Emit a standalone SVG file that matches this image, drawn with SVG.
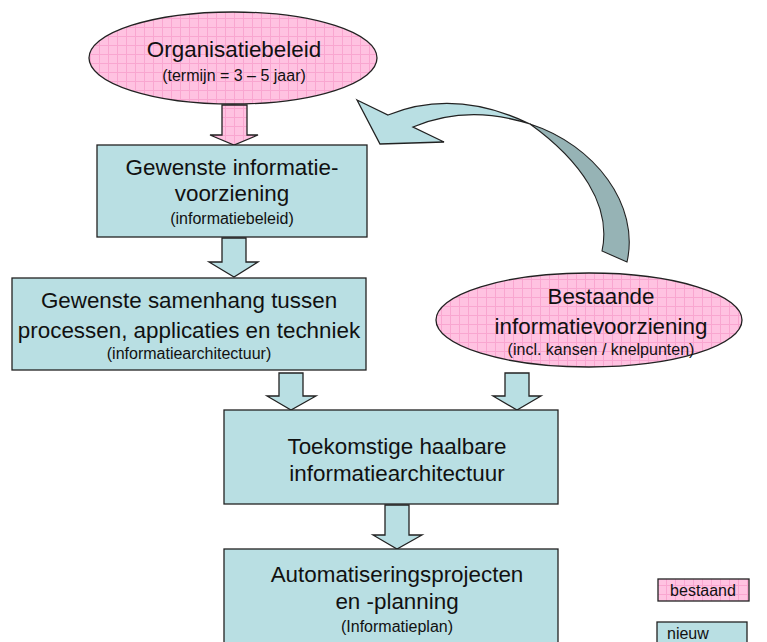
<svg xmlns="http://www.w3.org/2000/svg" width="767" height="642" viewBox="0 0 767 642">
<defs>
<pattern id="grid" width="9" height="9" patternUnits="userSpaceOnUse">
<rect width="9" height="9" fill="#FFC2E1"/>
<path d="M0 0.5H9M0.5 0V9" stroke="#F9A6D0" stroke-width="1"/>
</pattern>
<style>
.pink{fill:url(#grid);stroke:#222;stroke-width:1.3}
.cyan{fill:#B9DFE3;stroke:#222;stroke-width:1.3}
.dark{fill:#96B3B5;stroke:#222;stroke-width:1.1}
.big{font-family:"Liberation Sans",Arial,sans-serif;font-size:22.4px;fill:#111;text-anchor:middle}
.small{font-family:"Liberation Sans",Arial,sans-serif;font-size:16px;fill:#111;text-anchor:middle}
.leg{font-family:"Liberation Sans",Arial,sans-serif;font-size:16px;fill:#111}
</style>
</defs>
<rect width="767" height="642" fill="#fff"/>
<g id="connectors">
<path class="pink" d="M222 105H247V135H258L234 145L210 135H222Z"/>
<path class="cyan" d="M222 238H246V262H258L234 277L209 262H222Z"/>
<path class="cyan" d="M279 373H303V396H316L291 410L267 396H279Z"/>
<path class="cyan" d="M505 373H529V396H541L517 410L493 396H505Z"/>
<path class="cyan" d="M385 505H409V535H422L397 549L373 535H385Z"/>
<path class="cyan" d="M357 100L388 115Q455 88 530 124Q468 104 413 127L444 142L380 144Z"/>
<path class="dark" d="M530 124C595 145 640 205 627 262L602 251C612 205 580 160 530 124Z"/>
</g>
<g id="n-organisatiebeleid">
<ellipse class="pink" cx="233" cy="58" rx="144" ry="46"/>
<text class="big" x="234" y="57">Organisatiebeleid</text>
<text class="small" x="234" y="81">(termijn = 3 – 5 jaar)</text>
</g>
<g id="n-gewenste-iv">
<rect class="cyan" x="97" y="145" width="270" height="92"/>
<text class="big" x="232" y="175">Gewenste informatie-</text>
<text class="big" x="232" y="201">voorziening</text>
<text class="small" x="232" y="224">(informatiebeleid)</text>
</g>
<g id="n-samenhang">
<rect class="cyan" x="12" y="278" width="354" height="92"/>
<text class="big" x="189" y="308">Gewenste samenhang tussen</text>
<text class="big" x="189" y="338">processen, applicaties en techniek</text>
<text class="small" x="189" y="359">(informatiearchitectuur)</text>
</g>
<g id="n-bestaande">
<ellipse class="pink" cx="589" cy="320" rx="153" ry="47"/>
<text class="big" x="601" y="304">Bestaande</text>
<text class="big" x="601" y="334">informatievoorziening</text>
<text class="small" x="601" y="355">(incl. kansen / knelpunten)</text>
</g>
<g id="n-toekomstige">
<rect class="cyan" x="224" y="410" width="334" height="94"/>
<text class="big" x="397" y="454">Toekomstige haalbare</text>
<text class="big" x="397" y="481">informatiearchitectuur</text>
</g>
<g id="n-automatisering">
<rect class="cyan" x="224" y="549" width="334" height="110"/>
<text class="big" x="397" y="582">Automatiseringsprojecten</text>
<text class="big" x="397" y="609">en -planning</text>
<text class="small" x="397" y="632">(Informatieplan)</text>
</g>
<g id="legend-bestaand">
<rect class="pink" x="658" y="579" width="91" height="22"/>
<text class="leg" x="703" y="596" text-anchor="middle">bestaand</text>
</g>
<g id="legend-nieuw">
<rect class="cyan" x="657" y="622" width="90" height="30"/>
<text class="leg" x="667" y="639">nieuw</text>
</g>
</svg>
